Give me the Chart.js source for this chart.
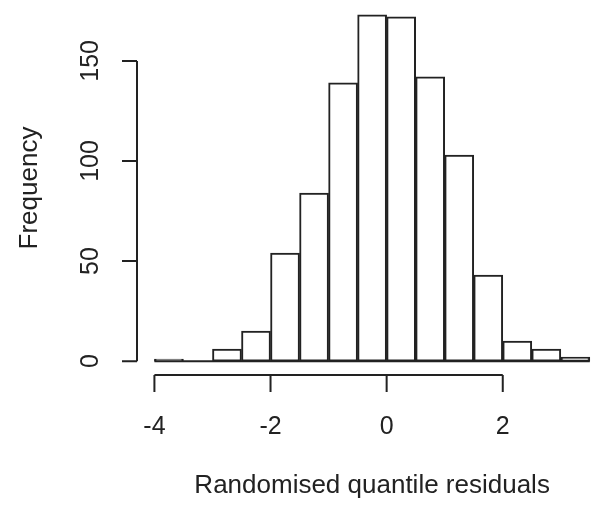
<!DOCTYPE html>
<html>
<head>
<meta charset="utf-8">
<script src="https://cdn.jsdelivr.net/npm/chart.js@4/dist/chart.umd.min.js"></script>
<style>
  html, body { margin: 0; padding: 0; background: #fff; }
  #wrap { width: 591px; height: 505px; }
</style>
</head>
<body>
<div id="wrap"><canvas id="chart"></canvas></div>
<script>
// histogram data (bin width 0.5)
var binStarts = [-4, -3.5, -3, -2.5, -2, -1.5, -1, -0.5, 0, 0.5, 1, 1.5, 2, 2.5, 3];
var counts = [1, 0, 6, 15, 54, 84, 139, 173, 172, 142, 103, 43, 10, 6, 2];
var binWidth = 0.5;
var xTicks = [-4, -2, 0, 2];
var yTicks = [0, 50, 100, 150];
var xTitle = "Randomised quantile residuals";
var yTitle = "Frequency";

var points = binStarts.map(function (s, i) {
    return { x: s + binWidth / 2, y: counts[i] };
});

var tickFont = "25px 'Liberation Sans', Arial, sans-serif";
var titleFont = "26px 'Liberation Sans', Arial, sans-serif";
var ink = "#222";

// R style axes, drawn off the plot region
var rAxes = {
    id: 'rAxes',
    afterDraw: function (c) {
        var ctx = c.ctx;
        var xs = c.scales.x;
        var ys = c.scales.y;
        var area = c.chartArea;
        ctx.save();
        ctx.strokeStyle = ink;
        ctx.fillStyle = ink;
        ctx.lineWidth = 2;

        // baseline under empty bins
        var y0 = ys.getPixelForValue(0);
        ctx.beginPath();
        ctx.moveTo(xs.getPixelForValue(binStarts[0]), y0);
        ctx.lineTo(xs.getPixelForValue(binStarts[binStarts.length - 1] + binWidth), y0);
        ctx.stroke();

        // x axis
        var ax = area.bottom;
        ctx.beginPath();
        ctx.moveTo(xs.getPixelForValue(xTicks[0]), ax);
        ctx.lineTo(xs.getPixelForValue(xTicks[xTicks.length - 1]), ax);
        xTicks.forEach(function (t) {
            var px = xs.getPixelForValue(t);
            ctx.moveTo(px, ax);
            ctx.lineTo(px, ax + 17);
        });
        ctx.stroke();
        ctx.textAlign = 'center';
        ctx.textBaseline = 'middle';
        ctx.font = tickFont;
        xTicks.forEach(function (t) {
            ctx.fillText(String(t), xs.getPixelForValue(t), ax + 52);
        });
        ctx.font = titleFont;
        ctx.fillText(xTitle, xs.getPixelForValue(-0.25), ax + 111);

        // y axis
        var ay = area.left;
        ctx.beginPath();
        ctx.moveTo(ay, ys.getPixelForValue(yTicks[0]));
        ctx.lineTo(ay, ys.getPixelForValue(yTicks[yTicks.length - 1]));
        yTicks.forEach(function (t) {
            var py = ys.getPixelForValue(t);
            ctx.moveTo(ay, py);
            ctx.lineTo(ay - 15, py);
        });
        ctx.stroke();
        ctx.font = tickFont;
        yTicks.forEach(function (t) {
            ctx.save();
            ctx.translate(ay - 46, ys.getPixelForValue(t));
            ctx.rotate(-Math.PI / 2);
            ctx.fillText(String(t), 0, 0);
            ctx.restore();
        });
        ctx.font = titleFont;
        ctx.save();
        ctx.translate(ay - 107, (area.top + area.bottom) / 2);
        ctx.rotate(-Math.PI / 2);
        ctx.fillText(yTitle, 0, 0);
        ctx.restore();

        ctx.restore();
    }
};

var chart = new Chart(document.getElementById('chart').getContext('2d'), {
    type: 'bar',
    data: {
        datasets: [{
            label: yTitle,
            data: points,
            backgroundColor: '#fff',
            borderColor: ink,
            borderWidth: 2,
            borderSkipped: false,
            barPercentage: 1,
            categoryPercentage: 1
        }]
    },
    options: {
        responsive: true,
        maintainAspectRatio: false,
        animation: false,
        layout: { padding: { left: 137, right: 0, top: 1, bottom: 130 } },
        scales: {
            x: { type: 'linear', display: false, offset: false, min: -4.3, max: 3.52 },
            y: { display: false, min: -6.92, max: 179.92 }
        },
        plugins: {
            legend: { display: false },
            tooltip: { enabled: false }
        }
    },
    plugins: [rAxes]
});
</script>
</body>
</html>
